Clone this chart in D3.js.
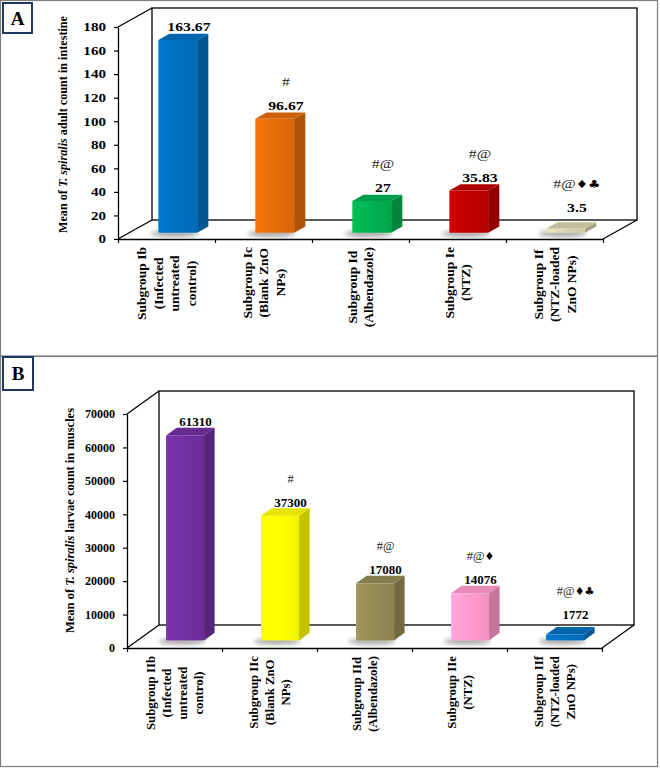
<!DOCTYPE html>
<html>
<head>
<meta charset="utf-8">
<script src="https://cdn.jsdelivr.net/npm/d3@7"></script>
<style>
  body { margin: 0; background: #fff; }
  svg { display: block; font-family: "Liberation Serif", "Times New Roman", serif; }
</style>
</head>
<body>
<div id="chart"></div>
<script>
// ---- data ----
const categoriesA = [
  ["Subgroup Ib", "(Infected", "untreated", "control)"],
  ["Subgroup Ic", "(Blank ZnO", "NPs)"],
  ["Subgroup Id", "(Albendazole)"],
  ["Subgroup Ie", "(NTZ)"],
  ["Subgroup If", "(NTZ-loaded", "ZnO NPs)"]
];
const valuesA = [163.67, 96.67, 27, 35.83, 3.5];
const marksA = ["", "#", "#@", "#@", "#@\u2666\u2663"];
const colorsA = ["#0070c0", "#e46c0a", "#00b050", "#c00000", "#d9d4ac"];
const ticksA = [0, 20, 40, 60, 80, 100, 120, 140, 160, 180];

const categoriesB = [
  ["Subgroup IIb", "(Infected", "untreated", "control)"],
  ["Subgroup IIc", "(Blank ZnO", "NPs)"],
  ["Subgroup IId", "(Albendazole)"],
  ["Subgroup IIe", "(NTZ)"],
  ["Subgroup IIf", "(NTZ-loaded", "ZnO NPs)"]
];
const valuesB = [61310, 37300, 17080, 14076, 1772];
const marksB = ["", "#", "#@", "#@\u2666", "#@\u2666\u2663"];
const colorsB = ["#7030a0", "#ffff00", "#948a54", "#ff99cc", "#0070c0"];
const ticksB = [0, 10000, 20000, 30000, 40000, 50000, 60000, 70000];

// ---- layout ----
const W = 660, H = 769;
const panelA = {
  id: "A", box: [0.5, 0.5, 657, 355.5], tag: [3, 3, 29, 30],
  x0: 118, x1: 603, y0: 239, yTop: 27, dx: 34, dy: -19, max: 180,
  sx: 1.26, tickFont: 12, valueFont: 12.5, catFont: 13.5, lineH: 16.5,
  title: ["Mean of ", "T. spiralis", " adult count in intestine"], titleX: 63, titleLen: 217
};
const panelB = {
  id: "B", box: [0.5, 356.5, 657, 410], tag: [3, 357, 30, 33],
  x0: 127, x1: 602, y0: 648, yTop: 414, dx: 32, dy: -23, max: 70000,
  sx: 1, tickFont: 12, valueFont: 13, catFont: 12.8, lineH: 16,
  title: ["Mean of ", "T. spiralis", " larvae  count in muscles"], titleX: 70, titleLen: 225
};

const svg = d3.select("#chart").append("svg")
  .attr("width", W).attr("height", H);

const defs = svg.append("defs");
defs.append("filter").attr("id", "blur")
  .attr("x", "-50%").attr("y", "-200%").attr("width", "200%").attr("height", "500%")
  .append("feGaussianBlur").attr("stdDeviation", 2.2);

function gradient(id, c, dir) {
  const base = d3.color(c);
  const g = defs.append("linearGradient").attr("id", id)
    .attr("x1", 0).attr("y1", 0).attr("x2", dir === "h" ? 1 : 0).attr("y2", dir === "h" ? 0 : 1);
  g.append("stop").attr("offset", "0%").attr("stop-color", base.brighter(0.25));
  g.append("stop").attr("offset", "55%").attr("stop-color", base);
  g.append("stop").attr("offset", "100%").attr("stop-color", base.darker(0.15));
}

function drawPanel(cfg, cats, vals, marks, colors, ticks) {
  const g = svg.append("g").attr("class", "panel-" + cfg.id);

  g.append("rect")
    .attr("x", cfg.box[0]).attr("y", cfg.box[1])
    .attr("width", cfg.box[2]).attr("height", cfg.box[3])
    .attr("fill", "none").attr("stroke", "#7f7f7f").attr("stroke-width", 1.2);

  g.append("rect")
    .attr("x", cfg.tag[0]).attr("y", cfg.tag[1])
    .attr("width", cfg.tag[2]).attr("height", cfg.tag[3])
    .attr("fill", "#fff").attr("stroke", "#1f3864").attr("stroke-width", 2);
  g.append("text")
    .attr("x", cfg.tag[0] + cfg.tag[2] / 2).attr("y", cfg.tag[1] + cfg.tag[3] / 2)
    .attr("dy", "0.36em").attr("text-anchor", "middle")
    .style("font-size", "19px").style("font-weight", "bold")
    .text(cfg.id);

  const y = d3.scaleLinear().domain([0, cfg.max]).range([cfg.y0, cfg.yTop]);
  const x = d3.scaleBand().domain(d3.range(cats.length)).range([cfg.x0, cfg.x1]);
  const xEdge = d3.scaleLinear().domain([0, cats.length]).range([cfg.x0, cfg.x1]);
  const dx = cfg.dx, dy = cfg.dy;

  // back wall, floor and side diagonals
  const frame = g.append("g").attr("fill", "none").attr("stroke", "#000").attr("stroke-width", 1.3);
  frame.append("rect")
    .attr("x", cfg.x0 + dx).attr("y", y(cfg.max) + dy)
    .attr("width", cfg.x1 - cfg.x0).attr("height", y(0) - y(cfg.max));
  [[cfg.x0, y(cfg.max)], [cfg.x0, y(0)], [cfg.x1, y(0)]].forEach(([px, py]) => {
    frame.append("line")
      .attr("x1", px).attr("y1", py).attr("x2", px + dx).attr("y2", py + dy);
  });

  // axes
  const yAxis = d3.axisLeft(y).tickValues(ticks).tickFormat(d3.format("d"))
    .tickSize(4).tickSizeOuter(0).tickPadding(8);
  const ya = g.append("g").attr("transform", `translate(${cfg.x0},0)`).call(yAxis);
  ya.select(".domain").attr("stroke-width", 1.3);
  ya.selectAll(".tick line").attr("stroke-width", 1.2);
  ya.selectAll(".tick text")
    .attr("x", -12 / cfg.sx)
    .attr("transform", `scale(${cfg.sx},1)`)
    .style("font-family", "'Liberation Serif', serif")
    .style("font-size", cfg.tickFont + "px").style("font-weight", "bold").attr("fill", "#000");

  const xAxis = d3.axisBottom(xEdge).tickValues(d3.range(cats.length + 1))
    .tickSize(4).tickSizeOuter(0).tickFormat("");
  const xa = g.append("g").attr("transform", `translate(0,${cfg.y0})`).call(xAxis);
  xa.select(".domain").attr("stroke-width", 1.3);
  xa.selectAll(".tick line").attr("stroke-width", 1.2);

  // y title
  const title = g.append("text")
    .attr("transform", `translate(${cfg.titleX},${(y(cfg.max) + dy + y(0)) / 2 + 1}) rotate(-90)`)
    .attr("text-anchor", "middle").attr("dy", "0.35em")
    .attr("textLength", cfg.titleLen).attr("lengthAdjust", "spacingAndGlyphs")
    .style("font-size", "12.5px").style("font-weight", "bold");
  cfg.title.forEach((t, i) => {
    title.append("tspan").style("font-style", i === 1 ? "italic" : "normal").text(t);
  });

  // bars
  const f0 = 0.33, f1 = 0.66;
  const bw = x.bandwidth() * 0.4;
  const ddx = (f1 - f0) * dx, ddy = (f1 - f0) * dy;
  const bars = vals.map((v, i) => {
    const bx = x(i) + (x.bandwidth() - bw) / 2 + f0 * dx;
    const base = y(0) + f0 * dy;
    const top = y(v) + f0 * dy;
    return { i, v, bx, base, top, c: colors[i] };
  });

  bars.forEach(b => {
    gradient(`front-${cfg.id}-${b.i}`, b.c, "h");
  });

  const barG = g.append("g");
  barG.selectAll(".shadow").data(bars).join("ellipse")
    .attr("class", "shadow")
    .attr("cx", d => d.bx + bw * 0.42).attr("cy", d => d.base + 1)
    .attr("rx", bw * 0.62).attr("ry", 3.2)
    .attr("fill", "#8c8c8c").attr("opacity", 0.75)
    .attr("filter", "url(#blur)");

  barG.selectAll(".side").data(bars).join("path")
    .attr("class", "side")
    .attr("d", d => `M${d.bx + bw},${d.top}L${d.bx + bw + ddx},${d.top + ddy}L${d.bx + bw + ddx},${d.base + ddy}L${d.bx + bw},${d.base}Z`)
    .attr("fill", d => d3.color(d.c).darker(0.75));

  barG.selectAll(".front").data(bars).join("rect")
    .attr("class", "front")
    .attr("x", d => d.bx).attr("y", d => d.top)
    .attr("width", bw).attr("height", d => d.base - d.top)
    .attr("fill", d => `url(#front-${cfg.id}-${d.i})`);

  barG.selectAll(".top").data(bars).join("path")
    .attr("class", "top")
    .attr("d", d => `M${d.bx},${d.top}L${d.bx + ddx},${d.top + ddy}L${d.bx + bw + ddx},${d.top + ddy}L${d.bx + bw},${d.top}Z`)
    .attr("fill", d => d3.color(d.c).darker(0.3));

  // value labels and significance marks
  const labelY = d => Math.min(d.top - 9, d.base - 21);
  const labelX = d => d.bx + bw / 2 + ddx;
  g.selectAll(".val").data(bars).join("text")
    .attr("class", "val")
    .attr("text-anchor", "middle")
    .attr("transform", d => `translate(${labelX(d)},${labelY(d)}) scale(${cfg.sx},1)`)
    .style("font-size", cfg.valueFont + "px").style("font-weight", "bold")
    .text(d => String(d.v));

  g.selectAll(".mark").data(bars.filter(d => marks[d.i])).join("text")
    .attr("class", "mark")
    .attr("text-anchor", "middle")
    .attr("transform", d => `translate(${labelX(d)},${labelY(d) - 24}) scale(${cfg.sx},1)`)
    .style("font-size", "12.5px").attr("fill", "#222")
    .each(function (d) {
      const t = d3.select(this);
      const m = marks[d.i];
      t.append("tspan").text(m.replace(/[\u2666\u2663]/g, ""));
      const sym = m.replace(/[^\u2666\u2663]/g, "");
      if (sym) t.append("tspan").style("font-family", "'DejaVu Sans', sans-serif")
        .style("font-size", "11px").attr("fill", "#000").text(sym);
    });

  // category labels, rotated
  const catG = g.append("g").style("font-size", cfg.catFont + "px").style("font-weight", "bold");
  cats.forEach((lines, i) => {
    const cx = x(i) + x.bandwidth() / 2;
    const grp = catG.append("g");
    const texts = lines.map((ln, j) => grp.append("text")
      .attr("text-anchor", "middle").attr("dy", "0.35em")
      .text(ln));
    const maxLen = d3.max(texts, t => t.node().getComputedTextLength());
    const cy = cfg.y0 + 8 + maxLen / 2;
    texts.forEach((t, j) => {
      const lx = cx + (j - (lines.length - 1) / 2) * cfg.lineH;
      t.attr("transform", `translate(${lx},${cy}) rotate(-90)`);
    });
  });
}

drawPanel(panelA, categoriesA, valuesA, marksA, colorsA, ticksA);
drawPanel(panelB, categoriesB, valuesB, marksB, colorsB, ticksB);
</script>
</body>
</html>
